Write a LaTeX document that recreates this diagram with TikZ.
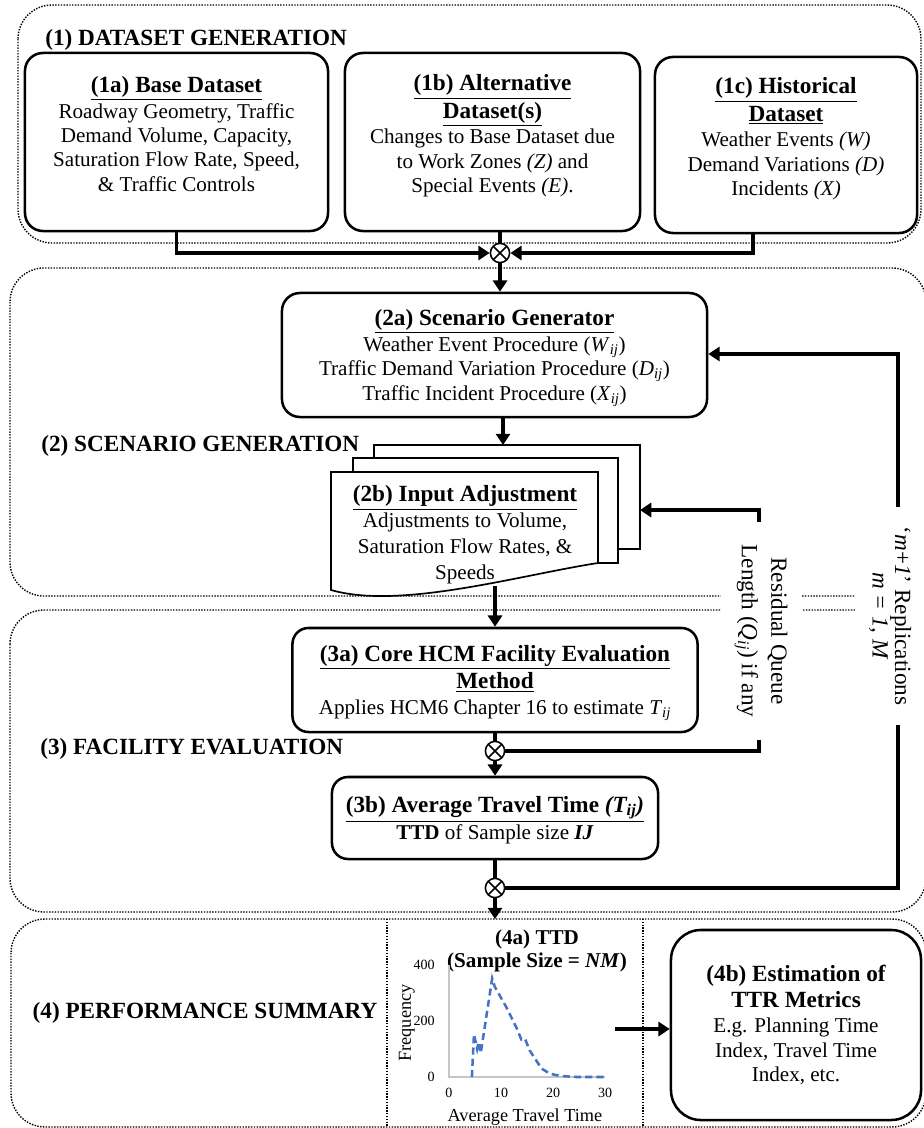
\documentclass[tikz,border=0pt]{standalone}
\usepackage{fontspec}
\setmainfont{Liberation Serif}
\usetikzlibrary{arrows.meta,calc}
\newcommand{\lowij}{\textsubscript{\textit{ij}}}
\newcommand{\boxhead}[1]{{\fontsize{16.5}{19}\selectfont\bfseries #1}}
\newcommand{\boxtitle}[1]{\boxhead{\underline{#1}}}

\begin{document}
\begin{tikzpicture}[x=0.025cm, y=-0.025cm, >={Triangle[length=8pt,width=10pt]},
    font=\fontsize{15}{17.3}\selectfont]
    \tikzstyle{group}=[draw, densely dotted, line width=1pt, rounded corners=0.85cm]
    \tikzstyle{stage}=[draw, line width=1.8pt, rounded corners=0.45cm, align=center, inner sep=2pt, fill=white]
    \tikzstyle{grp title}=[font=\fontsize{16.5}{20}\selectfont\bfseries, anchor=west, inner sep=0pt]
    \tikzstyle{mixer}=[circle, draw, line width=1.1pt, minimum size=0.48cm, inner sep=0pt, fill=white,
        path picture={\draw[line width=1.1pt] (path picture bounding box.north west) -- (path picture bounding box.south east)
            (path picture bounding box.north east) -- (path picture bounding box.south west);}]
    \tikzstyle{flow}=[line width=2.5pt]
    \tikzstyle{side note}=[fill=white, rotate=-90, align=center, inner sep=0pt, font=\fontsize{16.5}{21}\selectfont]
    \tikzstyle{page}=[draw, fill=white, line width=1.2pt]
    \tikzstyle{tick}=[font=\fontsize{10}{12}\selectfont]

    \useasboundingbox (0,0) rectangle (923,1128);

    % Dotted outlines of the four groups
    \draw[group] (18,5) rectangle (921,243);
    \draw[group] (10,268) rectangle (926,596);
    \draw[group] (10,610) rectangle (926,912);
    \draw[group] (11,919) rectangle (926,1127);
    \draw[densely dotted, line width=1pt] (387,919) -- (387,1127);
    \draw[densely dotted, line width=1pt] (643,919) -- (643,1127);

    % Group titles
    \node[grp title] at (45,40) {(1) DATASET GENERATION};
    \node[grp title] at (41,446) {(2) SCENARIO GENERATION};
    \node[grp title] at (40,749) {(3) FACILITY EVALUATION};
    \node[grp title, anchor=center] at (205,1013) {(4) PERFORMANCE SUMMARY};

    % Dataset boxes
    \node[stage, text depth=0.42cm, minimum width=7.575cm, minimum height=4.45cm] (S-1a) at (176.5,142)
        {\boxtitle{(1a) Base Dataset}\\[1pt]Roadway Geometry, Traffic\\Demand Volume, Capacity,\\Saturation Flow Rate, Speed,\\\& Traffic Controls};
    \node[stage, text depth=0.42cm, minimum width=7.375cm, minimum height=4.45cm] (S-1b) at (492.5,142)
        {\boxtitle{(1b) Alternative}\\[2pt]\boxtitle{Dataset(s)}\\[1pt]Changes to Base Dataset due\\to Work Zones \textit{(Z)} and\\Special Events \textit{(E)}.};
    \node[stage, text depth=0.42cm, minimum width=6.55cm, minimum height=4.4cm] (S-1c) at (786,145)
        {\boxtitle{(1c) Historical}\\[2pt]\boxtitle{Dataset}\\[1pt]Weather Events \textit{(W)}\\Demand Variations \textit{(D)}\\Incidents \textit{(X)}};

    % Scenario generation
    \node[stage, text depth=0pt, minimum width=10.625cm, minimum height=3.1cm] (S-2a) at (494.5,355)
        {\boxtitle{(2a) Scenario Generator}\\[1pt]Weather Event Procedure (\textit{W}\lowij)\\Traffic Demand Variation Procedure (\textit{D}\lowij)\\Traffic Incident Procedure (\textit{X}\lowij)};
    \draw[page] (374,445) rectangle (640,549);
    \draw[page] (353,458) rectangle (618,563);
    \draw[page] (331,472) -- (598,472) -- (598,563) .. controls (520,575) and (400,610) .. (331,590) -- cycle;
    \node[align=center, font=\fontsize{15}{18.4}\selectfont] (S-2b) at (465,535)
        {\boxtitle{(2b) Input Adjustment}\\Adjustments to Volume,\\Saturation Flow Rates, \&\\Speeds};
    \coordinate (in-2b) at (503,445);
    \coordinate (out-2b) at (495,586);
    \coordinate (fb-2b) at (640,510);

    % Facility evaluation
    \node[stage, text depth=0pt, rounded corners=0.4cm, minimum width=10.125cm, minimum height=2.6cm] (S-3a) at (495,680)
        {\boxtitle{(3a) Core HCM Facility Evaluation}\\[2pt]\boxtitle{Method}\\[1pt]Applies HCM6 Chapter 16 to estimate \textit{T}\lowij};
    \node[stage, text depth=0pt, rounded corners=0.4cm, minimum width=8.15cm, minimum height=2.05cm] (S-3b) at (495,818)
        {\boxtitle{(3b) Average Travel Time \textit{(T\lowij)}}\\[1pt]\textbf{TTD} of Sample size \textbf{\textit{IJ}}};

    % Performance summary
    \node[stage, rounded corners=0.75cm, minimum width=6.25cm, minimum height=4.75cm] (S-4b) at (796,1025)
        {\boxhead{(4b) Estimation of}\\[1pt]\boxhead{TTR Metrics}\\[1pt]E.g. Planning Time\\Index, Travel Time\\Index, etc.};
    \node[align=center, font=\fontsize{15}{16.5}\selectfont\bfseries] (T-4a) at (537,951)
        {(4a) TTD\\(Sample Size = \textit{NM})};
    \coordinate (in-4) at (495,919);
    \coordinate (out-4a) at (615,1029);

    % Mixers
    \node[mixer] (M-1) at (500,253) {};
    \node[mixer] (M-3) at (495,751) {};
    \node[mixer] (M-4) at (495,888) {};

    % Connectors
    \draw[flow,->] (S-1a.south) |- (M-1);
    \draw[flow,->] ($(S-1c.south)+(-33,0)$) |- (M-1);
    \draw[flow] (S-1b.south -| M-1) -- (M-1);
    \draw[flow,->] (M-1) -- (M-1 |- S-2a.north);
    \draw[flow,->] (S-2a.south -| in-2b) -- (in-2b);
    \draw[flow,->] (out-2b) -- (S-3a.north);
    \draw[flow] (S-3a.south) -- (M-3);
    \draw[flow,->] (M-3) -- (S-3b.north);
    \draw[flow] (S-3b.south) -- (M-4);
    \draw[flow,->] (M-4) -- (in-4);
    \draw[flow,->] (out-4a) -- (out-4a -| S-4b.west);
    % Feedback loops
    \draw[flow,->] (M-3) -| (759,510) -- (fb-2b);
    \draw[flow,->] (M-4) -| (898,354) -- (898,354 -| S-2a.east);
    \node[side note, minimum width=5.425cm, minimum height=2.025cm] (N-q) at (761,631)
        {Residual Queue\\Length (\textit{Q}\lowij) if any};
    \node[side note, minimum width=5.425cm, minimum height=1.75cm, font=\fontsize{16.5}{16}\selectfont] (N-r) at (890,616)
        {‘\textit{m}+\textit{1}’ Replications\\\textit{m = 1, M}};

    % Travel time distribution
    \begin{scope}[shift={(449,1077)}, x=0.13cm, y=0.007cm]
        \draw[gray!45, line width=0.8pt] (0,400) -- (0,0) -- (30,0);
        \foreach \v in {0,200,400}
            \node[tick, anchor=east] at (-1.8,\v) {\v};
        \foreach \v in {0,10,20,30}
            \node[tick] at (\v,-57) {\v};
        \node[rotate=90, font=\fontsize{13}{15}\selectfont] at (-8.1,193) {Frequency};
        \node[font=\fontsize{13}{15}\selectfont] at (14.6,-143) {Average Travel Time};
        \draw[color={rgb,255:red,68;green,114;blue,196}, line width=1.8pt, dash pattern=on 5pt off 3pt]
            plot coordinates {(4.4,0) (4.8,153) (5.4,100) (5.7,125) (6.1,85) (8.3,352) (8.8,322) (11,250) (13,175)
            (13.9,134) (14.6,137) (15.5,95) (17.8,30) (19.4,12) (21.3,4) (24.5,0) (30,0)};
    \end{scope}
\end{tikzpicture}
\end{document}
